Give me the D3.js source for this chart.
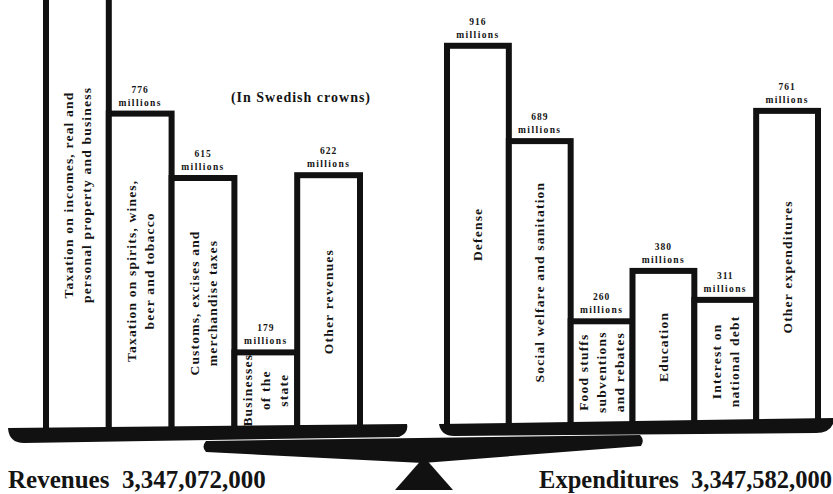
<!DOCTYPE html>
<html>
<head>
<meta charset="utf-8">
<script src="https://cdn.jsdelivr.net/npm/d3@7"></script>
<style>
  html, body { margin: 0; padding: 0; background: #fff; }
  svg { display: block; }
  text { font-family: "Liberation Serif", "Times New Roman", serif; font-weight: bold; fill: #141414; }
</style>
</head>
<body>
<svg id="chart" width="833" height="494"></svg>
<script>
// ---------- DATA ----------
const revCategories = ["Taxation on incomes", "Taxation on spirits", "Customs", "Businesses of the state", "Other revenues"];
const revValues = [1155, 776, 615, 179, 622];
const revLabels = [
  ["Taxation on incomes, real and", "personal property and business"],
  ["Taxation on spirits, wines,", "beer and tobacco"],
  ["Customs, excises and", "merchandise taxes"],
  ["Businesses", "of the", "state"],
  ["Other revenues"]
];
const expCategories = ["Defense", "Social welfare", "Food stuffs", "Education", "Interest", "Other expenditures"];
const expValues = [916, 689, 260, 380, 311, 761];
const expLabels = [
  ["Defense"],
  ["Social welfare and sanitation"],
  ["Food stuffs", "subventions", "and rebates"],
  ["Education"],
  ["Interest on", "national debt"],
  ["Other expenditures"]
];
const unitLabel = "millions";
const subtitle = "(In Swedish crowns)";
const revTotalLabel = "Revenues  3,347,072,000";
const expTotalLabel = "Expenditures  3,347,582,000";

// ---------- DRAW ----------
const svg = d3.select("#chart");
const ink = "#111";

const xRev = d3.scaleBand().domain(revCategories).range([46, 360]).padding(0);
const yRev = d3.scaleLinear().domain([0, 1000]).range([424, 24]);
const xExp = d3.scaleBand().domain(expCategories).range([447, 818]).padding(0);
const yExp = d3.scaleLinear().domain([0, 1000]).range([430.5, 10.5]);

function drawSide(cats, vals, labels, x, y, bottom) {
  const data = cats.map((c, i) => ({ c, v: vals[i], lines: labels[i] }));
  const g = svg.append("g");
  g.selectAll("rect").data(data).join("rect")
    .attr("x", d => x(d.c))
    .attr("y", d => y(d.v))
    .attr("width", x.bandwidth())
    .attr("height", d => bottom - y(d.v))
    .attr("fill", "#fff")
    .attr("stroke", ink)
    .attr("stroke-width", 6);

  // value labels (only those inside the picture; the tallest bar runs off the top)
  const shown = data.filter(d => y(d.v) - 21 > 8);
  const vl = g.selectAll("g.val").data(shown).join("g").attr("class", "val");
  vl.append("text")
    .attr("x", d => x(d.c) + x.bandwidth() / 2)
    .attr("y", d => y(d.v) - 21)
    .attr("text-anchor", "middle")
    .attr("font-size", 9.5)
    .attr("letter-spacing", 1)
    .text(d => d.v);
  vl.append("text")
    .attr("x", d => x(d.c) + x.bandwidth() / 2)
    .attr("y", d => y(d.v) - 8)
    .attr("text-anchor", "middle")
    .attr("font-size", 9.5)
    .attr("letter-spacing", 1.4)
    .text(unitLabel);

  // category labels, rotated, centred in the visible bar
  const cl = g.selectAll("g.cat").data(data).join("g").attr("class", "cat")
    .attr("transform", d => {
      const top = Math.max(y(d.v), -40);
      const cy = (top + bottom - 4) / 2;
      return `translate(${x(d.c) + x.bandwidth() / 2},${cy}) rotate(-90)`;
    });
  cl.each(function(d) {
    const t = d3.select(this);
    const n = d.lines.length;
    const lh = 18;
    d.lines.forEach((ln, i) => {
      t.append("text")
        .attr("x", 0)
        .attr("y", (i - (n - 1) / 2) * lh)
        .attr("text-anchor", "middle")
        .attr("dominant-baseline", "central")
        .attr("font-size", 13.5)
        .attr("letter-spacing", 1.2)
        .text(ln);
    });
  });
}

drawSide(revCategories, revValues, revLabels, xRev, yRev, 432);
drawSide(expCategories, expValues, expLabels, xExp, yExp, 427);

// subtitle
svg.append("text")
  .attr("x", 301).attr("y", 102)
  .attr("text-anchor", "middle")
  .attr("font-size", 14)
  .attr("letter-spacing", 1)
  .text(subtitle);

// pans
svg.append("path")
  .attr("d", "M8,428 L407,424 Q409,433 399,437 L24,443 Q9,443 8,428 Z")
  .attr("fill", ink);
svg.append("path")
  .attr("d", "M439,424 L833,418 L833,424 Q829,433 816,433 L454,436 Q441,436 439,424 Z")
  .attr("fill", ink);
// beam
svg.append("path")
  .attr("d", "M206,441 L640,435 Q645,440 641,446 L423,463 L206,452 Q201,447 206,441 Z")
  .attr("fill", ink);
// fulcrum
svg.append("path")
  .attr("d", "M424,457 L453,490 L395,490 Z")
  .attr("fill", ink);

// totals
svg.append("text")
  .attr("x", 8).attr("y", 488)
  .attr("font-size", 25)
  .style("white-space", "pre")
  .text(revTotalLabel);
svg.append("text")
  .attr("x", 832).attr("y", 488)
  .attr("text-anchor", "end")
  .attr("font-size", 24.5)
  .style("white-space", "pre")
  .text(expTotalLabel);
</script>
</body>
</html>
